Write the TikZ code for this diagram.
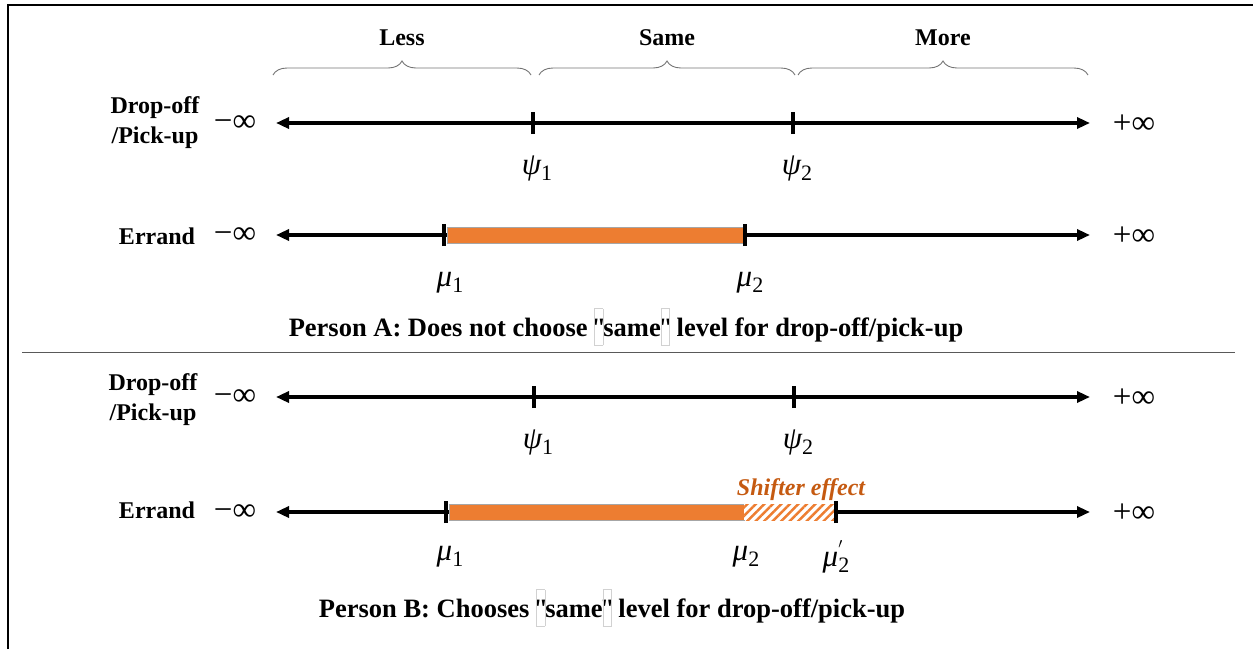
\documentclass[tikz,border=0pt]{standalone}
\usepackage{fontspec}
\setmainfont{Liberation Serif}
\newfontfamily\qfont{Liberation Serif}[Ligatures=TeXOff]
\usetikzlibrary{arrows.meta,decorations.pathreplacing,patterns.meta}
\definecolor{orng}{HTML}{ED7D31}
\definecolor{shiftc}{HTML}{C55A11}
\newcommand{\qbx}{{\setlength\fboxsep{0pt}\setlength\fboxrule{0.6pt}\color{black!18}\fbox{\color{black}\vrule height 27pt depth 9pt width 0pt\makebox[8pt]{\qfont\bfseries"}}}}
\newcommand{\grk}[2]{{\fontsize{31}{32}\selectfont\itshape #1}{\fontsize{22}{22}\selectfont\raisebox{-6pt}{#2}}}
\begin{document}
\begin{tikzpicture}[x=1pt,y=-1pt,
  lbl/.style={font=\fontsize{24}{30}\selectfont\bfseries, align=center},
  inf/.style={font=\fontsize{33}{34}\selectfont},
  axisline/.style={line width=3.2pt, {Triangle[length=13pt,width=11pt]}-{Triangle[length=13pt,width=11pt]}},
  tickmark/.style={line width=3.2pt},
  brc/.style={decorate, decoration={brace, amplitude=14pt, aspect=0.5}, draw=black!55, line width=0.9pt},
  greek/.style={inner sep=0pt},
  bar/.style={fill=orng, draw=black!35, line width=0.4pt},
  hatchbar/.style={pattern={Lines[angle=45,distance=6pt,line width=2.4pt]}, pattern color=orng},
  caption/.style={font=\fontsize{26.5}{30}\selectfont\bfseries}
]
\useasboundingbox (0,0) rectangle (1253,649);
% frame
\draw[line width=2pt] (8,649) -- (8,5) -- (1253,5);
% separator
\draw[black!65, line width=1pt] (22,352) -- (1235,352);

% ---------- Person A ----------
\draw[brc] (273,75) -- (531,75) node[midway, yshift=37pt, lbl] (less) {Less};
\draw[brc] (539,75) -- (795,75) node[midway, yshift=37pt, lbl] (same) {Same};
\draw[brc] (798,75) -- (1088,75) node[midway, yshift=37pt, lbl] (more) {More};

\node[lbl] (dpA) at (155,123) {Drop-off\\/Pick-up};
\node[inf] (minfA) at (235,124) {−∞};
\node[inf] (pinfA) at (1134,124) {+∞};
\coordinate (a1l) at (276,123);
\coordinate (a1r) at (1090,123);
\draw[axisline] (a1l) -- (a1r);
\coordinate (p1A) at (533,123);
\coordinate (p2A) at (793,123);
\draw[tickmark] ([yshift=-11]p1A) -- ([yshift=11]p1A);
\draw[tickmark] ([yshift=-11]p2A) -- ([yshift=11]p2A);
\node[greek] (psi1A) at (537,168) {\grk{ψ}{1}};
\node[greek] (psi2A) at (797,168) {\grk{ψ}{2}};

\node[lbl] (erA) at (157,236) {Errand};
\node[inf] (minfA2) at (235,236) {−∞};
\node[inf] (pinfA2) at (1134,236) {+∞};
\coordinate (a2l) at (276,235);
\coordinate (a2r) at (1090,235);
\draw[axisline] (a2l) -- (a2r);
\draw[bar] (447,227) rectangle (744,243);
\coordinate (m1A) at (444,235);
\coordinate (m2A) at (745,235);
\draw[tickmark] ([yshift=-11]m1A) -- ([yshift=11]m1A);
\draw[tickmark] ([yshift=-11]m2A) -- ([yshift=11]m2A);
\node[greek] (mu1A) at (450,283) {\grk{μ}{1}};
\node[greek] (mu2A) at (750,283) {\grk{μ}{2}};

\node[caption] (capA) at (626,327) {Person A: Does not choose \qbx same\qbx\ level for drop-off/pick-up};

% ---------- Person B ----------
\node[lbl] (dpB) at (153,400) {Drop-off\\/Pick-up};
\node[inf] (minfB) at (235,398) {−∞};
\node[inf] (pinfB) at (1134,398) {+∞};
\coordinate (b1l) at (276,397);
\coordinate (b1r) at (1090,397);
\draw[axisline] (b1l) -- (b1r);
\coordinate (p1B) at (534,397);
\coordinate (p2B) at (794,397);
\draw[tickmark] ([yshift=-11]p1B) -- ([yshift=11]p1B);
\draw[tickmark] ([yshift=-11]p2B) -- ([yshift=11]p2B);
\node[greek] (psi1B) at (538,442) {\grk{ψ}{1}};
\node[greek] (psi2B) at (798,442) {\grk{ψ}{2}};

\node[lbl] (erB) at (157,510) {Errand};
\node[inf] (minfB2) at (235,513) {−∞};
\node[inf] (pinfB2) at (1134,513) {+∞};
\coordinate (b2l) at (276,512);
\coordinate (b2r) at (1090,512);
\draw[axisline] (b2l) -- (b2r);
\draw[bar] (449,504) rectangle (744,520);
\fill[white] (744,504) rectangle (834,520);
\fill[hatchbar] (744,504) rectangle (834,520);
\coordinate (m1B) at (446,512);
\coordinate (m2B) at (836,512);
\draw[tickmark] ([yshift=-11]m1B) -- ([yshift=11]m1B);
\draw[tickmark] ([yshift=-11]m2B) -- ([yshift=11]m2B);
\node[font=\fontsize{24}{26}\selectfont\bfseries\itshape, text=shiftc] (shift) at (801,490) {Shifter effect};
\node[greek] (mu1B) at (450,557) {\grk{μ}{1}};
\node[greek] (mu2B) at (746,557) {\grk{μ}{2}};
\node[greek] (mu3B) at (836,557) {{\fontsize{31}{32}\selectfont\itshape μ}\makebox[0pt][l]{\raisebox{11pt}{\fontsize{22}{22}\selectfont$'$}}{\fontsize{22}{22}\selectfont\raisebox{-6pt}{2}}};

\node[caption] (capB) at (612,608) {Person B: Chooses \qbx same\qbx\ level for drop-off/pick-up};
\end{tikzpicture}
\end{document}
